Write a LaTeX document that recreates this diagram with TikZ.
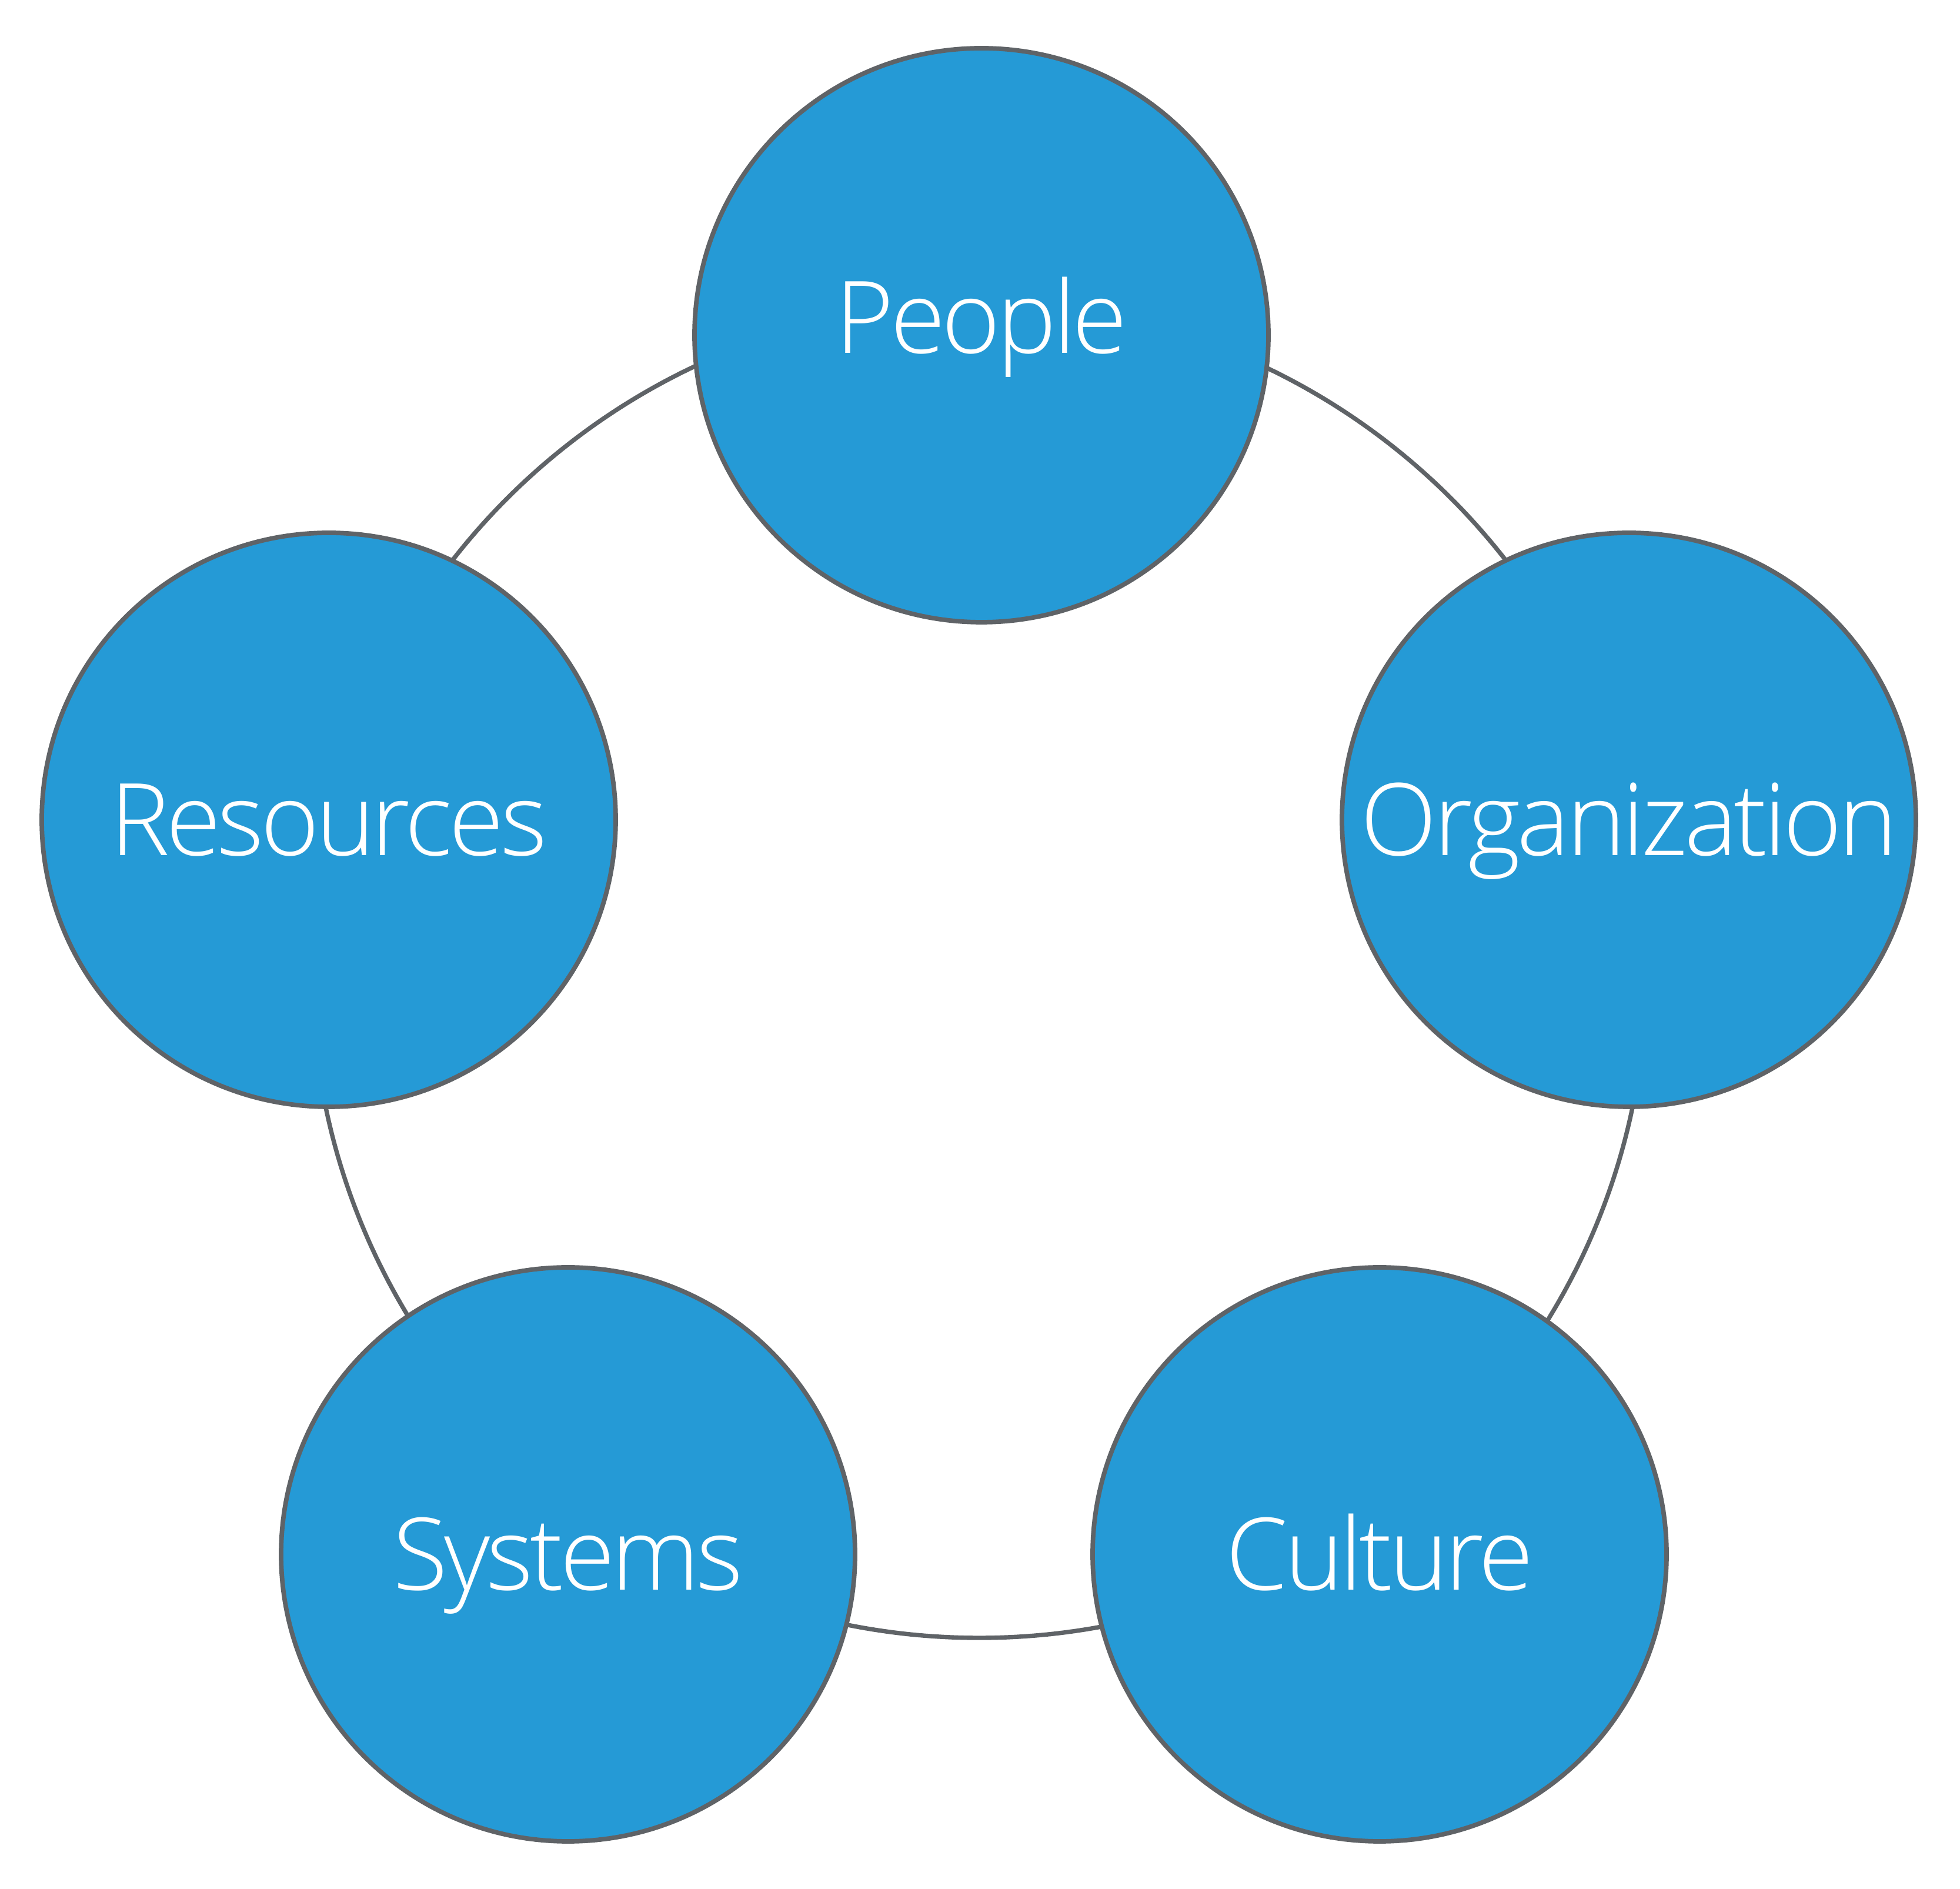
\documentclass[tikz,border=0pt]{standalone}
\usepackage{fontspec}
\setmainfont{Open Sans Light}[LetterSpace=-3.5]
\usepackage{tikz}
\definecolor{partblue}{HTML}{259AD6}
\definecolor{rimgray}{HTML}{5F6367}

\begin{document}
\begin{tikzpicture}[
	part/.style={circle,draw=rimgray,fill=partblue,line width=2.2pt,minimum size=9.76cm,inner sep=0pt,
		text=white,font=\fontsize{48.5}{58}\selectfont,text height=1.22cm,text depth=0pt},
	rim/.style={circle,draw=rimgray,line width=2.1pt,minimum size=22.7cm,inner sep=0pt}]
	\useasboundingbox (0,0) rectangle (33.33,32.12);

\node[rim] (ring) at (16.65,15.62) {};

\node[part,text depth=0.6cm] (People) at (16.69,26.42) {People};
\node[part] (Org) at (27.70,18.18) {Organization};
\node[part] (Cult) at (23.46,5.69) {Culture};
\node[part] (Sys) at (9.66,5.69) {Systems};
\node[part] (Res) at (5.59,18.18) {Resources};
\end{tikzpicture}
\end{document}
